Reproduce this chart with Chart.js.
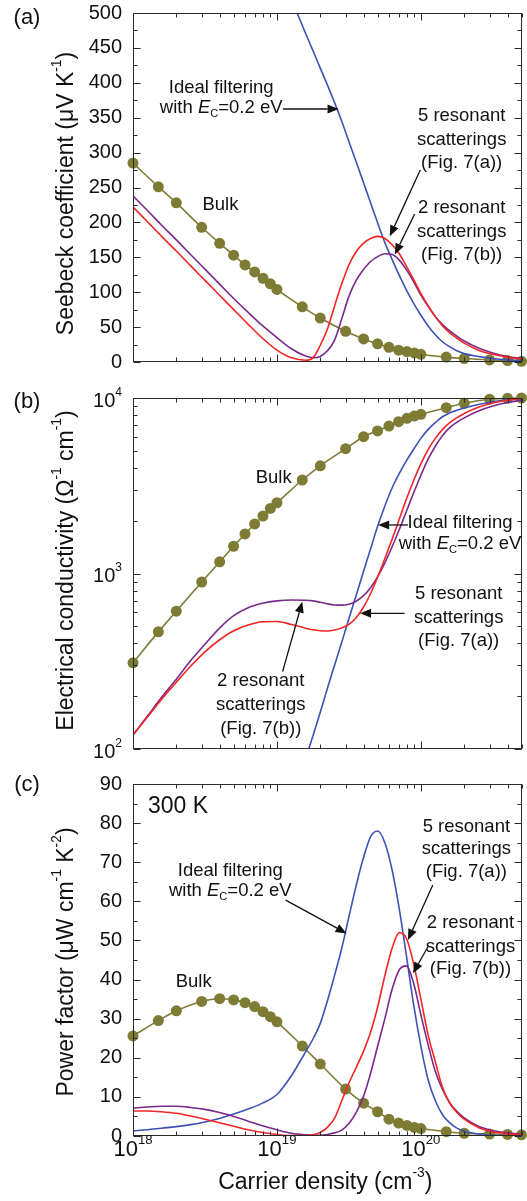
<!DOCTYPE html>
<html>
<head>
<meta charset="utf-8">
<script src="https://cdn.jsdelivr.net/npm/chart.js@4.4.1/dist/chart.umd.min.js"></script>
<style>
  html, body { margin: 0; padding: 0; background: #fff; }
  #page { position: relative; width: 527px; height: 1201px; overflow: hidden; }
  #page canvas { position: absolute; left: 0; }
</style>
</head>
<body>
<div id="page">
  <canvas id="seebeck" width="527" height="370" style="top:0px"></canvas>
  <canvas id="conductivity" width="527" height="395" style="top:370px"></canvas>
  <canvas id="powerFactor" width="527" height="436" style="top:765px"></canvas>
</div>
<script>
// carrier density grid of the computed curves (cm^-3)
const density = [1e18, 1.26e18, 1.58e18, 2e18, 2.51e18, 3.16e18, 3.98e18, 5.01e18, 6.31e18, 7.94e18,
  1e19, 1.26e19, 1.58e19, 1.78e19, 2e19, 2.24e19, 2.51e19, 2.82e19, 3.16e19, 3.55e19,
  3.98e19, 4.47e19, 5.01e19, 5.62e19, 6.31e19, 7.08e19, 7.94e19, 8.91e19, 1e20, 1.12e20,
  1.26e20, 1.41e20, 1.58e20, 1.78e20, 2e20, 2.51e20, 3.16e20, 3.98e20, 5.01e20];
// densities of the bulk symbols
const bulkDensity = [1e18, 1.5e18, 2e18, 3e18, 4e18, 5e18, 6e18, 7e18, 8e18, 9e18,
  1e19, 1.5e19, 2e19, 3e19, 4e19, 5e19, 6e19, 7e19, 8e19, 9e19,
  1e20, 1.5e20, 2e20, 3e20, 4e20, 5e20];

// (a) Seebeck coefficient, uV/K
const seebeckIdeal = [null, null, null, null, null, null, null, null, null, null,
  570, 520, 471, 446, 421, 397, 372, 345, 316, 287,
  258, 228, 199, 171, 147, 124, 103, 84, 67, 52,
  39, 29, 22, 16, 12, 8, 5, 3, 2];
const seebeckRes5 = [222, 201, 180, 159, 138, 117, 96, 75, 54, 34,
  17, 6, 2.5, 6, 24, 47, 80, 112, 139, 158,
  170, 177, 180, 177, 168, 155, 137, 118, 98, 81,
  65, 52, 42, 34, 27, 17, 11, 7, 4];
const seebeckRes2 = [238, 217, 196, 175, 154, 133, 112, 91, 71, 52,
  35, 19, 8.5, 6, 8, 16, 31, 62, 94, 117,
  132, 144, 151, 155, 154, 146, 132, 115, 96, 80,
  65, 54, 45, 37, 30, 20, 13, 8, 5];
const seebeckBulk = [285, 251, 228, 193, 170, 153, 139, 129, 120, 112,
  104, 79, 63, 44, 33, 26, 21, 17, 15, 13,
  11, 7, 5, 3, 2, 1];

// (b) electrical conductivity, 1/(ohm cm)
const condIdeal = [null, null, null, null, null, null, null, null, null, null, null, null,
  88, 119, 162, 221, 299, 406, 552, 750,
  1019, 1380, 1862, 2427, 3069, 3715, 4395, 5105, 5888, 6607,
  7244, 7816, 8222, 8511, 8770, 9183, 9528, 9772, 9931];
const condRes5 = [120, 152, 192, 240, 296, 358, 418, 472, 509, 531,
  533, 512, 488, 478, 472, 470, 476, 490, 513, 560,
  640, 767, 955, 1216, 1567, 2042, 2661, 3388, 4217, 5070,
  5888, 6607, 7211, 7727, 8166, 8851, 9354, 9705, 9931];
const condRes2 = [120, 154, 197, 250, 318, 395, 487, 575, 638, 676,
  698, 707, 704, 698, 686, 672, 662, 660, 668, 695,
  745, 830, 960, 1150, 1420, 1780, 2265, 2884, 3631, 4467,
  5309, 6095, 6761, 7278, 7709, 8433, 8995, 9419, 9727];
const condBulk = [310, 465, 610, 894, 1165, 1430, 1680, 1915, 2126, 2350,
  2530, 3410, 4110, 5140, 6020, 6490, 6920, 7330, 7660, 7890,
  8070, 8810, 9330, 9840, 9960, 10000];

// (c) power factor, uW/(cm K^2)
const pfIdeal = [1.3, 1.6, 2.0, 2.4, 2.9, 3.6, 4.5, 5.6, 6.9, 8.4,
  10.6, 15.4, 21.5, 24.8, 28.8, 34.5, 41, 48, 56, 64,
  71, 76.5, 78, 75, 68, 58, 46, 33.5, 23, 14.5,
  9, 5.5, 3.4, 2.0, 1.2, 0.5, 0.2, 0.1, 0.05];
const pfRes5 = [6.4, 6.4, 6.2, 5.8, 5.1, 4.3, 3.4, 2.5, 1.6, 0.9,
  0.4, 0.1, 0.1, 0.3, 0.9, 2.2, 4.5, 9, 13.5, 17.5,
  21.5, 26.5, 33, 41, 48, 52, 50.5, 44, 35, 26,
  19, 12.5, 8.5, 6, 4.3, 2.2, 1.1, 0.6, 0.3];
const pfRes2 = [7.1, 7.4, 7.6, 7.6, 7.3, 6.8, 6.0, 5.0, 3.8, 2.6,
  1.6, 0.7, 0.3, 0.2, 0.2, 0.4, 0.8, 1.5, 3.2, 6.0,
  10, 16, 23, 30, 37.5, 42.5, 43.5, 39, 31, 23.5,
  16.5, 12, 8.6, 6.3, 4.6, 2.5, 1.4, 0.8, 0.5];
const pfBulk = [25.6, 29.5, 32.0, 34.4, 35.1, 34.8, 34.1, 33.1, 31.8, 30.5,
  29.2, 23.0, 18.4, 12.0, 8.4, 6.2, 4.3, 3.3, 2.7, 2.2,
  1.9, 1.1, 0.7, 0.5, 0.4, 0.3];

// axis labels
const densityTicks = [1e18, 1e19, 1e20];
const densityTickLabels = ['10^{18}', '10^{19}', '10^{20}'];
const seebeckTicks = [0, 50, 100, 150, 200, 250, 300, 350, 400, 450, 500];
const condTicks = [100, 1000, 10000];
const condTickLabels = ['10^{2}', '10^{3}', '10^{4}'];
const pfTicks = [0, 10, 20, 30, 40, 50, 60, 70, 80, 90];

// text notes placed in data units [text, density, value]
const seebeckNotes = [
  ['Bulk', 4.05e18, 225],
  ['Ideal filtering', 4.1e18, 392],
  ['with *E*_{C}=0.2 eV', 4.1e18, 364],
  ['5 resonant', 1.92e20, 352],
  ['scatterings', 1.92e20, 318],
  ['(Fig. 7(a))', 1.92e20, 285],
  ['2 resonant', 1.92e20, 221],
  ['scatterings', 1.92e20, 187],
  ['(Fig. 7(b))', 1.92e20, 153]
];
const seebeckArrows = [
  [1.1e19, 362.5, 2.68e19, 362.5],
  [9.9e19, 275, 6.08e19, 180],
  [9.05e19, 212, 6.59e19, 154]
];
const condNotes = [
  ['Bulk', 9.5e18, 3500],
  ['Ideal filtering', 1.87e20, 1932],
  ['with *E*_{C}=0.2 eV', 1.87e20, 1469],
  ['5 resonant', 1.83e20, 762],
  ['scatterings', 1.83e20, 561],
  ['(Fig. 7(a))', 1.83e20, 414],
  ['2 resonant', 7.72e18, 245],
  ['scatterings', 7.72e18, 179],
  ['(Fig. 7(b))', 7.72e18, 131]
];
const condArrows = [
  [8.13e19, 1890, 5.05e19, 1890],
  [7.7e19, 593, 3.78e19, 593],
  [1.095e19, 276, 1.5e19, 691]
];
const pfNotes = [
  ['Bulk', 2.64e18, 39.4],
  ['Ideal filtering', 4.74e18, 67.8],
  ['with *E*_{C}=0.2 eV', 4.74e18, 62.7],
  ['5 resonant', 2.07e20, 79.1],
  ['scatterings', 2.07e20, 73.3],
  ['(Fig. 7(a))', 2.07e20, 67.4],
  ['2 resonant', 2.21e20, 54.4],
  ['scatterings', 2.21e20, 48.4],
  ['(Fig. 7(b))', 2.21e20, 42.6]
];
const pfArrows = [
  [1.15e19, 60.3, 3.05e19, 51.8],
  [1.21e20, 64.2, 8.13e19, 50.1],
  [1.12e20, 48.4, 8.81e19, 41.6]
];

const BLUE = '#3d52b4';
const RED = '#f42424';
const PURPLE = '#7a2a8c';
const OLIVE = '#7d7b34';
const FONT = '"Liberation Sans", Arial, Helvetica, sans-serif';

function parseRich(str) {
  const parts = [];
  const re = /\^\{([^}]*)\}|_\{([^}]*)\}|\*([^*]*)\*|([^^_*]+)/g;
  let m;
  while ((m = re.exec(str))) {
    if (m[1] !== undefined) parts.push({ t: m[1], s: 'sup' });
    else if (m[2] !== undefined) parts.push({ t: m[2], s: 'sub' });
    else if (m[3] !== undefined) parts.push({ t: m[3], s: 'i' });
    else parts.push({ t: m[4], s: '' });
  }
  return parts;
}

function partFont(p, size) {
  const small = p.s === 'sup' || p.s === 'sub';
  return (p.s === 'i' ? 'italic ' : '') + (small ? size * 0.6 : size) + 'px ' + FONT;
}

function drawRich(ctx, str, x, y, size, align) {
  const parts = parseRich(str);
  ctx.save();
  ctx.textBaseline = 'middle';
  ctx.textAlign = 'left';
  let w = 0;
  for (const p of parts) { ctx.font = partFont(p, size); w += ctx.measureText(p.t).width; }
  let cx = align === 'center' ? x - w / 2 : align === 'right' ? x - w : x;
  for (const p of parts) {
    ctx.font = partFont(p, size);
    let dy = 0;
    if (p.s === 'sup') dy = -size * 0.42;
    if (p.s === 'sub') dy = size * 0.32;
    ctx.fillText(p.t, cx, y + dy);
    cx += ctx.measureText(p.t).width;
  }
  ctx.restore();
}

function arrow(ctx, x1, y1, x2, y2) {
  const ang = Math.atan2(y2 - y1, x2 - x1);
  const hl = 11, hw = 4.5;
  const bx = x2 - hl * Math.cos(ang), by = y2 - hl * Math.sin(ang);
  ctx.beginPath(); ctx.moveTo(x1, y1); ctx.lineTo(bx, by); ctx.stroke();
  ctx.beginPath();
  ctx.moveTo(x2, y2);
  ctx.lineTo(bx + hw * Math.sin(ang), by - hw * Math.cos(ang));
  ctx.lineTo(bx - hw * Math.sin(ang), by + hw * Math.cos(ang));
  ctx.closePath(); ctx.fill();
}

// what each panel draws around its plot area
const panels = {
  seebeck: {
    letter: '(a)', letterY: 18, titleShift: 6,
    title: 'Seebeck coefficient (\u03bcV K^{-1})',
    yTicks: seebeckTicks, yLabels: seebeckTicks.map(String), yMinor: 25, yMajor: 50,
    notes: seebeckNotes, arrows: seebeckArrows
  },
  conductivity: {
    letter: '(b)', letterY: 32, titleShift: -3,
    title: 'Electrical conductivity (\u03a9^{-1} cm^{-1})',
    yTicks: condTicks, yLabels: condTickLabels, yLog: true,
    notes: condNotes, arrows: condArrows
  },
  powerFactor: {
    letter: '(c)', letterY: 20, titleShift: 2,
    title: 'Power factor (\u03bcW cm^{-1} K^{-2})',
    yTicks: pfTicks, yLabels: pfTicks.map(String), yMinor: 5, yMajor: 10,
    notes: pfNotes, arrows: pfArrows,
    xLabels: true, xTitle: 'Carrier density (cm^{-3})',
    extra: [['300 K', 1.27e18, 84.2]]
  }
};

const framePlugin = {
  id: 'frame',
  afterDatasetsDraw(chart) {
    const p = panels[chart.canvas.id];
    const ctx = chart.ctx, a = chart.chartArea;
    const xs = chart.scales.x, ys = chart.scales.y;
    ctx.save();
    ctx.strokeStyle = '#2a2a2a';
    ctx.fillStyle = '#111';
    ctx.lineWidth = 1;
    const L = Math.round(a.left) + 0.5, R = Math.round(a.right) - 0.5;
    const T = Math.round(a.top) + 0.5, B = Math.round(a.bottom) - 0.5;
    ctx.strokeRect(L, T, R - L, B - T);

    ctx.beginPath();
    for (let e = 18; e <= 20; e++) {
      for (let k = 1; k <= 9; k++) {
        const v = k * Math.pow(10, e);
        if (v < xs.min || v > xs.max) continue;
        const px = Math.round(xs.getPixelForValue(v)) + 0.5;
        const len = k === 1 ? 7 : 4;
        ctx.moveTo(px, B); ctx.lineTo(px, B - len);
        ctx.moveTo(px, T); ctx.lineTo(px, T + len);
      }
    }
    const yMarks = [];
    if (p.yLog) {
      for (let e = 2; e <= 4; e++) for (let k = 1; k <= 9; k++) {
        const v = k * Math.pow(10, e);
        if (v <= ys.max) yMarks.push([v, k === 1]);
      }
    } else {
      for (let v = ys.min; v <= ys.max + 1e-9; v += p.yMinor) yMarks.push([v, v % p.yMajor === 0]);
    }
    for (const [v, major] of yMarks) {
      const py = Math.round(ys.getPixelForValue(v)) + 0.5;
      const len = major ? 7 : 4;
      ctx.moveTo(L, py); ctx.lineTo(L + len, py);
      ctx.moveTo(R, py); ctx.lineTo(R - len, py);
    }
    ctx.stroke();

    // y tick labels
    p.yTicks.forEach((v, i) => {
      let py = ys.getPixelForValue(v);
      if (p.yLog) py += 3;
      drawRich(ctx, p.yLabels[i], a.left - 11, py, 20, 'right');
    });
    // x tick labels
    if (p.xLabels) {
      densityTicks.forEach((v, i) => {
        drawRich(ctx, densityTickLabels[i], xs.getPixelForValue(v), a.bottom + 14, 22, 'center');
      });
      drawRich(ctx, p.xTitle, (a.left + a.right) / 2 - 2, a.bottom + 47, 23, 'center');
    }
    // y title
    ctx.save();
    ctx.translate(67, (a.top + a.bottom) / 2 + p.titleShift);
    ctx.rotate(-Math.PI / 2);
    drawRich(ctx, p.title, 0, 0, 23, 'center');
    ctx.restore();
    // panel letter
    drawRich(ctx, p.letter, 27, p.letterY, 22, 'center');

    // notes and arrows
    for (const [t, n, v] of p.notes) {
      drawRich(ctx, t, xs.getPixelForValue(n), ys.getPixelForValue(v), 18.5, 'center');
    }
    if (p.extra) {
      for (const [t, n, v] of p.extra) {
        drawRich(ctx, t, xs.getPixelForValue(n), ys.getPixelForValue(v), 23, 'left');
      }
    }
    ctx.strokeStyle = '#111';
    ctx.lineWidth = 1.3;
    for (const [n1, v1, n2, v2] of p.arrows) {
      arrow(ctx, xs.getPixelForValue(n1), ys.getPixelForValue(v1),
        xs.getPixelForValue(n2), ys.getPixelForValue(v2));
    }
    ctx.restore();
  }
};

function curve(values, color) {
  return {
    data: density.map((n, i) => ({ x: n, y: values[i] })),
    borderColor: color,
    borderWidth: 1.6,
    pointRadius: 0,
    fill: false,
    cubicInterpolationMode: 'monotone'
  };
}

function bulk(values) {
  return {
    data: bulkDensity.map((n, i) => ({ x: n, y: values[i] })),
    borderColor: OLIVE,
    borderWidth: 1.6,
    pointRadius: 5.5,
    pointBackgroundColor: OLIVE,
    pointBorderWidth: 0,
    fill: false,
    clip: false,
    cubicInterpolationMode: 'monotone'
  };
}

function makeChart(id, yType, yMin, yMax, datasets, padding) {
  return new Chart(document.getElementById(id), {
    type: 'line',
    data: { datasets },
    options: {
      responsive: false,
      animation: false,
      layout: { padding },
      plugins: { legend: { display: false }, tooltip: { enabled: false } },
      scales: {
        x: { type: 'logarithmic', min: 1e18, max: 5e20, display: false },
        y: { type: yType, min: yMin, max: yMax, display: false }
      }
    },
    plugins: [framePlugin]
  });
}

makeChart('seebeck', 'linear', 0, 500, [
  curve(seebeckRes5, RED), curve(seebeckRes2, PURPLE), curve(seebeckIdeal, BLUE), bulk(seebeckBulk)
], { left: 133, right: 1, top: 13, bottom: 8 });

makeChart('conductivity', 'logarithmic', 100, 10000, [
  curve(condRes5, RED), curve(condRes2, PURPLE), curve(condIdeal, BLUE), bulk(condBulk)
], { left: 133, right: 1, top: 28, bottom: 16 });

makeChart('powerFactor', 'linear', 0, 90, [
  curve(pfRes5, RED), curve(pfRes2, PURPLE), curve(pfIdeal, BLUE), bulk(pfBulk)
], { left: 133, right: 1, top: 19, bottom: 65 });
</script>
</body>
</html>
